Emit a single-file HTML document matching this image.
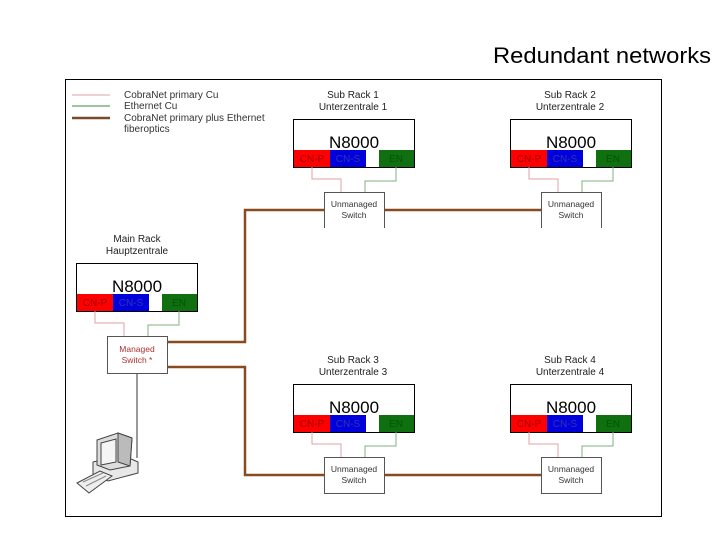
<!DOCTYPE html>
<html><head><meta charset="utf-8"><style>
html,body{margin:0;padding:0;background:#fff;}
svg{display:block;font-family:"Liberation Sans",sans-serif;}
</style></head><body>
<svg width="720" height="540" viewBox="0 0 720 540" xmlns="http://www.w3.org/2000/svg">
<text x="493" y="63" font-size="22" fill="#000" textLength="218" lengthAdjust="spacingAndGlyphs">Redundant networks</text>
<rect x="65.5" y="79.5" width="596" height="437" fill="none" stroke="#000" stroke-width="1"/>
<!-- legend -->
<line x1="72" y1="95" x2="110" y2="95" stroke="#e0a0a0" stroke-width="1"/>
<line x1="72" y1="106" x2="110" y2="106" stroke="#80b080" stroke-width="1.5"/>
<line x1="72" y1="118" x2="110" y2="118" stroke="#7a4a2a" stroke-width="2.5"/>
<g font-size="10" fill="#333">
<text x="124" y="98">CobraNet primary Cu</text>
<text x="124" y="109">Ethernet Cu</text>
<text x="124" y="121">CobraNet primary plus Ethernet</text>
<text x="124" y="132">fiberoptics</text>
</g>
<!-- brown fiber lines -->
<g stroke="#8a4a20" stroke-width="2.5" fill="none">
<polyline points="167,342 245,342 245,210 541,210"/>
<polyline points="167,367 245,367 245,475 541,475"/>
</g>
<line x1="137" y1="373" x2="137" y2="458" stroke="#333" stroke-width="1"/>

<defs>
<g id="rack">
<rect x="0.5" y="0.5" width="121" height="48" fill="#fff" stroke="#000"/>
<text x="61" y="29" font-size="17" text-anchor="middle" fill="#000">N8000</text>
<rect x="1" y="31" width="36" height="17" fill="#f00"/>
<rect x="37" y="31" width="36" height="17" fill="#00d"/>
<rect x="86" y="31" width="35" height="17" fill="#107010"/>
<g font-size="10" text-anchor="middle">
<text x="19" y="43" fill="#900">CN-P</text>
<text x="55" y="43" fill="#3333aa">CN-S</text>
<text x="103" y="43" fill="#050">EN</text>
</g>
<polyline points="19,48 19,60 48,60 48,74" fill="none" stroke="#e0a0a0"/>
<polyline points="103,48 103,62 72,62 72,74" fill="none" stroke="#80b080"/>
</g>
</defs>

<g font-size="10" fill="#222" text-anchor="middle">
<text x="137" y="242">Main Rack</text><text x="137" y="254">Hauptzentrale</text>
<text x="353" y="98">Sub Rack 1</text><text x="353" y="110">Unterzentrale 1</text>
<text x="570" y="98">Sub Rack 2</text><text x="570" y="110">Unterzentrale 2</text>
<text x="353" y="363">Sub Rack 3</text><text x="353" y="375">Unterzentrale 3</text>
<text x="570" y="363">Sub Rack 4</text><text x="570" y="375">Unterzentrale 4</text>
</g>
<g transform="translate(76,263)"><use href="#rack"/></g>
<g transform="translate(293,119)"><use href="#rack"/></g>
<g transform="translate(510,119)"><use href="#rack"/></g>
<g transform="translate(293,384)"><use href="#rack"/></g>
<g transform="translate(510,384)"><use href="#rack"/></g>

<rect x="107.5" y="336.5" width="60" height="37" fill="#fff" stroke="#555"/>
<text x="137" y="352" font-size="8.5" fill="#b03030" text-anchor="middle">Managed</text>
<text x="137" y="363" font-size="8.5" fill="#b03030" text-anchor="middle">Switch *</text>

<g fill="#fff" stroke="#555">
<path d="M324.5,228 V192.5 H384.5 V228"/>
<path d="M541.5,228 V192.5 H601.5 V228"/>
<rect x="324.5" y="457.5" width="60" height="36"/>
<rect x="541.5" y="457.5" width="60" height="36"/>
</g>
<g font-size="8.5" fill="#333" text-anchor="middle">
<text x="354" y="207">Unmanaged</text><text x="354" y="218">Switch</text>
<text x="571" y="207">Unmanaged</text><text x="571" y="218">Switch</text>
<text x="354" y="472">Unmanaged</text><text x="354" y="483">Switch</text>
<text x="571" y="472">Unmanaged</text><text x="571" y="483">Switch</text>
</g>

<!-- computer -->
<g stroke="#444" stroke-width="1">
<polygon points="93,462 122,455 138,462 138,473 108,481 93,474" fill="#e8e8e8"/>
<polygon points="97,440 118,433 132,438 130,466 110,470 97,465" fill="#ddd"/>
<polygon points="118,433 132,438 130,466 118,462" fill="#bbb"/>
<polygon points="101,443 116,439 116,462 101,465" fill="#f4f4f4"/>
<polygon points="77,483 100,471 112,476 89,493" fill="#eee"/>
<line x1="83" y1="482" x2="103" y2="473" stroke="#888"/>
<line x1="86" y1="486" x2="106" y2="476" stroke="#888"/>
</g>
</svg>
</body></html>
